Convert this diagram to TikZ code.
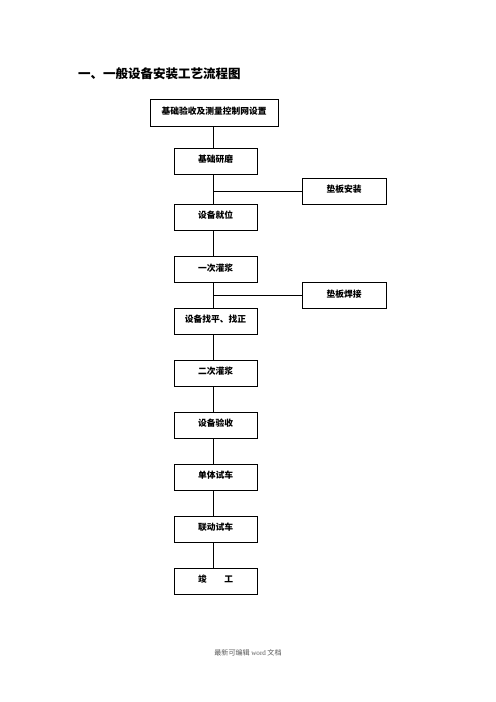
\documentclass[tikz,border=0pt]{standalone}
\usepackage{fontspec}
\setmainfont{Liberation Serif}
\newfontfamily\cjk{Noto Sans CJK SC}

\begin{document}
\begin{tikzpicture}[x=1.2pt, y=-1.2pt, line width=0.9pt,
    stepbox/.style={rectangle, draw, minimum width=83*1.2pt, minimum height=26*1.2pt,
        inner sep=0pt, font=\cjk\bfseries\fontsize{10.5pt}{12pt}\selectfont, text depth=0.45em},
    sidebox/.style={stepbox, minimum width=84*1.2pt}]
    \useasboundingbox (0,0) rectangle (496,702);

    % Title
    \node[anchor=west, font=\cjk\bfseries\fontsize{15pt}{18pt}\selectfont] (title) at (75,74) {一、一般设备安装工艺流程图};

    % Nodes
    \node[stepbox, minimum width=128*1.2pt, minimum height=27*1.2pt] (base) at (214,112.5) {基础验收及测量控制网设置};
    \node[stepbox] (grind) at (215.5,161) {基础研磨};
    \node[stepbox] (place) at (215.5,217) {设备就位};
    \node[stepbox] (grout1) at (215.5,269.5) {一次灌浆};
    \node[stepbox] (level) at (215.5,321) {设备找平、找正};
    \node[stepbox] (grout2) at (215.5,373) {二次灌浆};
    \node[stepbox] (check) at (215.5,425) {设备验收};
    \node[stepbox] (single) at (215.5,477) {单体试车};
    \node[stepbox] (linked) at (215.5,529) {联动试车};
    \node[stepbox] (finish) at (215.5,581) {竣\hspace{2em}工};
    \node[sidebox] (shim) at (344,191) {垫板安装};
    \node[sidebox] (weld) at (344,295.5) {垫板焊接};
    \coordinate (spine) at (213,0);

    % Edges
    \foreach \a/\b in {base/grind, grind/place, place/grout1, grout1/level, level/grout2,
        grout2/check, check/single, single/linked, linked/finish}
        \draw (\a.south -| spine) -- (\b.north -| spine);
    \draw (shim.west) -- (shim.west -| spine);
    \draw (weld.west) -- (weld.west -| spine);

    % Footer
    \node[text=black!65, font=\cjk\fontsize{8.5pt}{10pt}\selectfont] (foot) at (248,653) {最新可编辑 {\rmfamily word} 文档};
\end{tikzpicture}
\end{document}
